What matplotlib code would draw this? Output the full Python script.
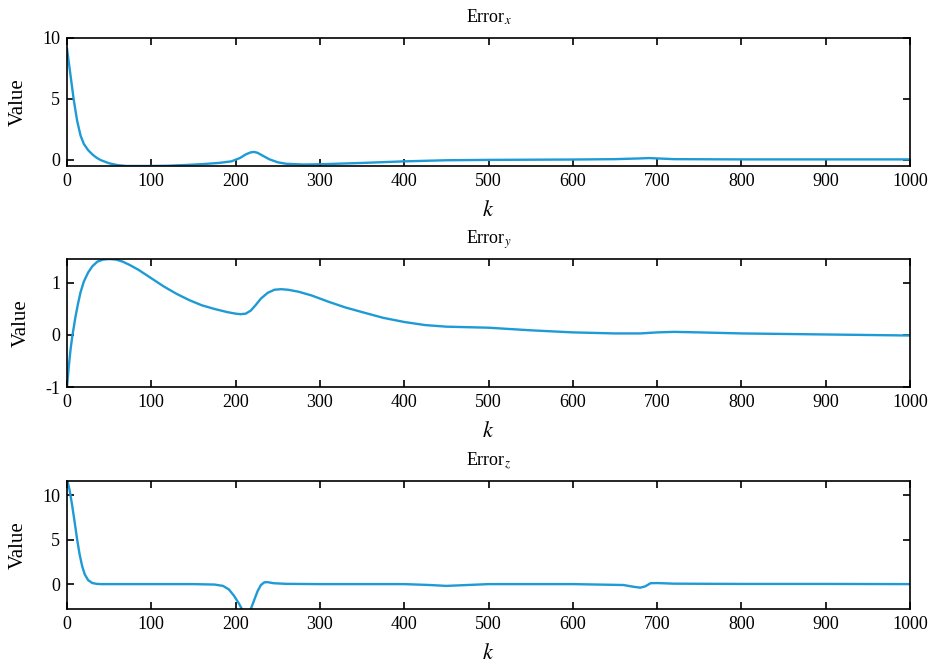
import matplotlib
matplotlib.use("Agg")
import matplotlib.pyplot as plt
import numpy as np

plt.rcParams.update({
    "font.family": "Liberation Serif",
    "mathtext.fontset": "stix",
    "font.size": 12,
    "axes.unicode_minus": False,
})

lineColor = "#1e9ad6"

# Error_x samples (k, value)
kx = [0, 4, 8, 12, 16, 20, 25, 30, 35, 40, 50, 60, 70, 80, 100, 120, 140, 160,
      180, 195, 205, 212, 218, 222, 226, 232, 240, 250, 260, 280, 300, 350, 400,
      450, 500, 600, 650, 680, 690, 700, 720, 800, 900, 1000]
ex = [9.1, 7.0, 4.9, 3.2, 2.0, 1.3, 0.8, 0.45, 0.18, -0.02, -0.28, -0.43, -0.5,
      -0.5, -0.5, -0.48, -0.42, -0.35, -0.25, -0.12, 0.15, 0.45, 0.62, 0.65,
      0.58, 0.35, 0.05, -0.2, -0.32, -0.38, -0.36, -0.25, -0.12, -0.03, 0.0,
      0.03, 0.06, 0.12, 0.15, 0.12, 0.06, 0.04, 0.04, 0.04]

# Error_y samples
ky = [0, 2, 4, 6, 8, 10, 13, 16, 20, 25, 30, 36, 43, 50, 58, 66, 75, 85, 100,
      115, 130, 145, 160, 175, 190, 200, 206, 212, 218, 224, 230, 238, 246, 254,
      262, 275, 290, 310, 330, 350, 375, 400, 425, 450, 500, 550, 600, 650, 680,
      700, 720, 750, 800, 850, 900, 950, 1000]
ey = [-1.0, -0.62, -0.3, -0.05, 0.15, 0.35, 0.6, 0.82, 1.03, 1.2, 1.32, 1.41,
      1.45, 1.46, 1.45, 1.41, 1.34, 1.25, 1.09, 0.93, 0.79, 0.67, 0.57, 0.5,
      0.44, 0.41, 0.40, 0.41, 0.47, 0.58, 0.7, 0.81, 0.87, 0.88, 0.87, 0.83,
      0.76, 0.64, 0.53, 0.44, 0.33, 0.25, 0.19, 0.16, 0.14, 0.09, 0.05, 0.03,
      0.03, 0.05, 0.06, 0.05, 0.03, 0.02, 0.01, 0.0, -0.01]

# Error_z samples
kz = [0, 3, 6, 9, 12, 15, 18, 21, 25, 30, 35, 40, 60, 100, 150, 175, 185, 192,
      198, 204, 208, 212, 215, 218, 222, 226, 230, 234, 238, 245, 260, 300, 400,
      430, 450, 470, 500, 600, 660, 672, 680, 686, 692, 700, 720, 800, 900, 1000]
ez = [11.8, 10.6, 8.9, 7.0, 5.0, 3.3, 2.0, 1.1, 0.45, 0.12, 0.03, 0.0, 0.0, 0.0,
      0.0, -0.05, -0.2, -0.6, -1.3, -2.2, -2.9, -3.3, -3.3, -2.8, -1.8, -0.8,
      -0.1, 0.2, 0.22, 0.1, 0.03, 0.0, 0.0, -0.1, -0.2, -0.12, 0.0, 0.0, -0.1,
      -0.3, -0.4, -0.25, 0.1, 0.12, 0.05, 0.02, 0.02, 0.0]

titles = [r"Error$_{x}$", r"Error$_{y}$", r"Error$_{z}$"]
series = [(kx, ex), (ky, ey), (kz, ez)]
ylims = [(-0.5, 10), (-1, 1.46), (-2.8, 11.6)]
yticks = [[0, 5, 10], [-1, 0, 1], [0, 5, 10]]
bottoms = [0.7504, 0.418, 0.0842]
xticks = np.arange(0, 1001, 100)

fig = plt.figure(figsize=(9.35, 6.65), dpi=100)

for i in range(3):
    ax = fig.add_axes([0.0717, bottoms[i], 0.9016, 0.1925])
    k, v = series[i]
    ax.plot(k, v, color=lineColor, linewidth=1.7)
    ax.set_xlim(0, 1000)
    ax.set_ylim(*ylims[i])
    ax.set_xticks(xticks)
    ax.set_yticks(yticks[i])
    ax.tick_params(direction="in", top=True, right=True, length=5, width=1.2,
                   labelsize=13, pad=5)
    for sp in ax.spines.values():
        sp.set_linewidth(1.2)
    ax.set_title(titles[i], fontsize=13, pad=11)
    ax.set_xlabel(r"$k$", fontsize=16, labelpad=8)
    ax.set_ylabel("Value", fontsize=15, labelpad=10)

plt.savefig("out.png", dpi=100)
